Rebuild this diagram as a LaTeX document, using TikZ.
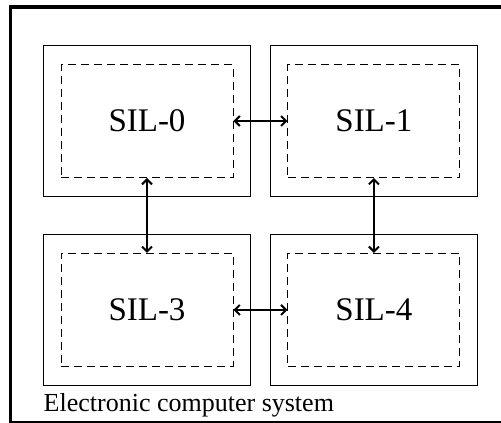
\documentclass[tikz,border=0pt]{standalone}
\usepackage{fontspec}
\setmainfont{Liberation Serif}
\usetikzlibrary{arrows.meta, positioning}
\tikzset{>={Straight Barb[length=5pt,width=10pt]}}

\begin{document}
\begin{tikzpicture}[x=1pt, y=1pt,
    silbox/.style={draw, dashed, dash pattern=on 8pt off 5pt, line width=0.9pt,
      minimum width=172pt, minimum height=113pt, inner sep=0pt, font=\fontsize{33}{36}\selectfont},
    unitbox/.style={draw, line width=1pt, minimum width=207pt, minimum height=151pt, inner sep=0pt},
    link/.style={<->, line width=2pt}]
  \useasboundingbox (0,0) rectangle (501,-423);
  \draw[line width=3.5pt] (10.5,-7) rectangle (506,-422.5);
  % inner (dashed) boxes
  \node[silbox] (sil0) at (147,-121) {SIL-0};
  \node[silbox, right=54pt of sil0] (sil1) {SIL-1};
  \node[silbox, below=75pt of sil0] (sil3) {SIL-3};
  \node[silbox, right=54pt of sil3] (sil4) {SIL-4};
  % outer boxes
  \foreach \s in {sil0,sil1,sil3,sil4}
    \node[unitbox] (\s-unit) at (\s) {};
  \draw[link] (sil0) -- (sil1);
  \draw[link] (sil0) -- (sil3);
  \draw[link] (sil1) -- (sil4);
  \draw[link] (sil3) -- (sil4);
  \node[anchor=base west, inner sep=0pt, font=\fontsize{26}{30}\selectfont] (label) at (43.5,-411) {Electronic computer system};
\end{tikzpicture}
\end{document}
